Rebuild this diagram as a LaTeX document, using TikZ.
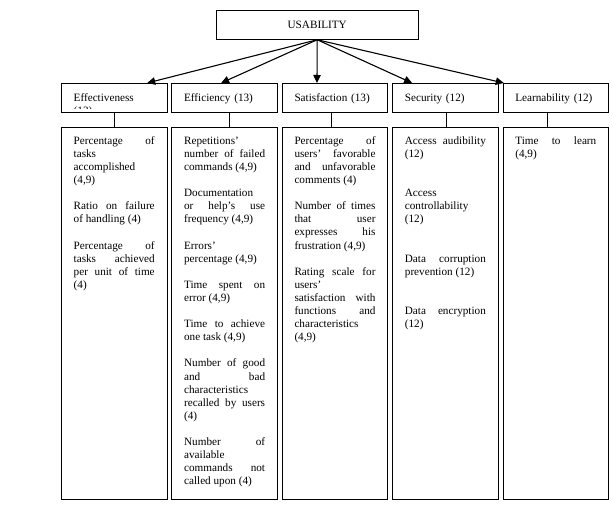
\documentclass[tikz,border=0pt]{standalone}
\usepackage{fontspec}
\setmainfont{Liberation Serif}
\usetikzlibrary{arrows.meta}
\hbadness=10000

\begin{document}
\begin{tikzpicture}[x=1pt, y=-1pt, line cap=round,
  font=\fontsize{11.2}{13.1}\selectfont,
  box/.style={draw, line width=0.9pt, inner xsep=12.25pt, inner ysep=0pt,
    text width=81pt, anchor=north west},
  head/.style={box, align=left, text height=18.3pt, text depth=10.7pt},
  list/.style={box, align=justify, text height=16.5pt, text depth=354.7pt,
    execute at begin node={\setlength{\parskip}{13.1pt}}},
  widegap/.style={execute at begin node={\setlength{\parskip}{26.2pt}}},
  arr/.style={line width=1.1pt, -{Triangle[length=8pt,width=7.5pt]}}]
  \useasboundingbox (0,0) rectangle (613,506);

  % --- Root ---
  \node[draw, line width=0.9pt, minimum width=202.3pt, minimum height=29pt,
    inner sep=0pt] (usab) at (317.2,24.8) {USABILITY};

  % --- Characteristics ---
  \node[head] (eff)   at (61,83)    {};
  \node[head] (effic) at (171.4,83) {Efficiency (13)};
  \node[head] (satis) at (281.8,83) {Satisfaction (13)};
  \node[head] (secur) at (392.2,83) {Security (12)};
  \node[head] (learn) at (502.6,83) {Learnability (12)};
  % label of the first box is cut by its frame
  \begin{scope}
    \clip (61,83) rectangle (166.5,108.4);
    \node[head, draw=none] (eff-text) at (61,83) {Effectiveness\\(13)};
  \end{scope}

  % --- Metrics ---
  \node[list] (eff-list) at (61,127.3) {%
    Percentage of \linebreak tasks \linebreak accomplished \linebreak (4,9)\par
    Ratio on failure \linebreak of handling (4)\par
    Percentage of \linebreak tasks achieved \linebreak per unit of time \linebreak (4)};
  \node[list] (effic-list) at (171.4,127.3) {%
    Repetitions’ \linebreak number of failed \linebreak commands (4,9)\par
    Documentation \linebreak or help’s use \linebreak frequency (4,9)\par
    Errors’ \linebreak percentage (4,9)\par
    Time spent on \linebreak error (4,9)\par
    Time to achieve \linebreak one task (4,9)\par
    Number of good \linebreak and bad \linebreak characteristics \linebreak recalled by users \linebreak (4)\par
    Number of \linebreak available \linebreak commands not \linebreak called upon (4)};
  \node[list] (satis-list) at (281.8,127.3) {%
    Percentage of \linebreak users’ favorable \linebreak and unfavorable \linebreak comments (4)\par
    Number of times \linebreak that user \linebreak expresses his \linebreak frustration (4,9)\par
    Rating scale for \linebreak users’ \linebreak satisfaction with \linebreak functions and \linebreak characteristics \linebreak (4,9)};
  \node[list, widegap] (secur-list) at (392.2,127.3) {%
    Access audibility \linebreak (12)\par
    Access \linebreak controllability \linebreak (12)\par
    Data corruption \linebreak prevention (12)\par
    Data encryption \linebreak (12)};
  \node[list] (learn-list) at (502.6,127.3) {%
    Time to learn \linebreak (4,9)};

  % --- Links ---
  \foreach \n/\dx in {eff/33, effic/-3.5, satis/-18, secur/-33.3, learn/-52}
    \draw[arr] (usab.south) -- ([xshift=\dx pt]\n.north);
  \foreach \n/\dx in {eff/0, effic/4.8, satis/-4, secur/1, learn/-8.7}
    \draw[line width=0.9pt] ([xshift=\dx pt]\n.south) -- ([xshift=\dx pt]\n-list.north);
\end{tikzpicture}
\end{document}
